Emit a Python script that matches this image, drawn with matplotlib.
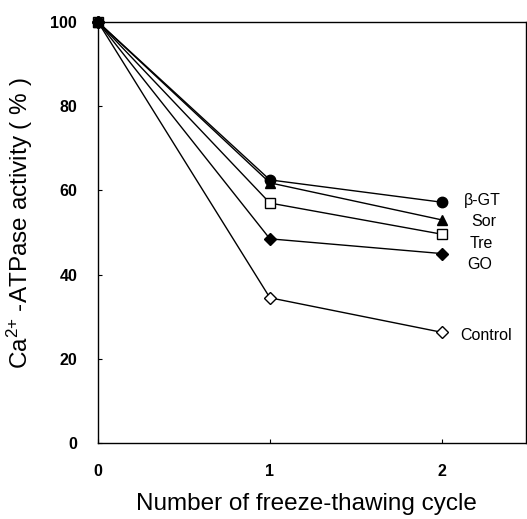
import matplotlib
matplotlib.use("Agg")
import matplotlib.pyplot as plt

plt.rcParams['font.family'] = ['Liberation Sans', 'DejaVu Sans']
plt.rcParams['mathtext.fontset'] = 'custom'
plt.rcParams['mathtext.rm'] = 'Liberation Sans'
plt.rcParams['mathtext.it'] = 'Liberation Sans'
plt.rcParams['mathtext.bf'] = 'Liberation Sans:bold'

cycles = [0, 1, 2]
series_names = ["β-GT", "Sor", "Tre", "GO", "Control"]
beta_gt = [100, 62.5, 57.2]
sor = [100, 61.8, 53.0]
tre = [100, 57.0, 49.6]
go = [100, 48.5, 45.0]
control = [100, 34.5, 26.3]
values = [beta_gt, sor, tre, go, control]

markers = ['o', '^', 's', 'D', 'D']
facecolors = ['black', 'black', 'white', 'black', 'white']
msizes = [7.5, 7.5, 7, 6, 6]
label_xy = [(2.13, 57.5), (2.17, 52.5), (2.16, 47.5), (2.15, 42.5), (2.11, 25.5)]

fig = plt.figure(figsize=(5.27, 5.19), dpi=100)
ax = fig.add_axes([0.186, 0.1464, 0.812, 0.8112])

order = [4, 2, 3, 1, 0]
for i in order:
    name, vals, m, fc, ms = series_names[i], values[i], markers[i], facecolors[i], msizes[i]
    lx, ly = label_xy[i]
    ax.plot(cycles, vals, color='black', lw=1.0, marker=m, markersize=ms,
            markerfacecolor=fc, markeredgecolor='black', markeredgewidth=1.0, clip_on=False, zorder=3)
    ax.text(lx, ly, name, fontsize=11.5, ha='left', va='center')

ax.set_xlim(0, 2.49)
ax.set_ylim(0, 100)
ax.set_xticks([0, 1, 2])
ax.set_yticks([0, 20, 40, 60, 80, 100])
ax.tick_params(direction='in', length=3, width=0.8)
ax.tick_params(axis='x', pad=15, labelsize=11.5)
ax.tick_params(axis='y', pad=15, labelsize=11.5)
for lab in ax.get_xticklabels() + ax.get_yticklabels():
    lab.set_fontweight('bold')
for sp in ax.spines.values():
    sp.set_linewidth(1.0)

ax.set_xlabel("Number of freeze-thawing cycle", fontsize=17.5)
ax.xaxis.set_label_coords(0.488, -0.118)
ax.set_ylabel("Ca$^{2{+}}$ -ATPase activity ( % )", fontsize=17.5)
ax.yaxis.set_label_coords(-0.147, 0.5226)

fig.savefig("out.png", dpi=100)
